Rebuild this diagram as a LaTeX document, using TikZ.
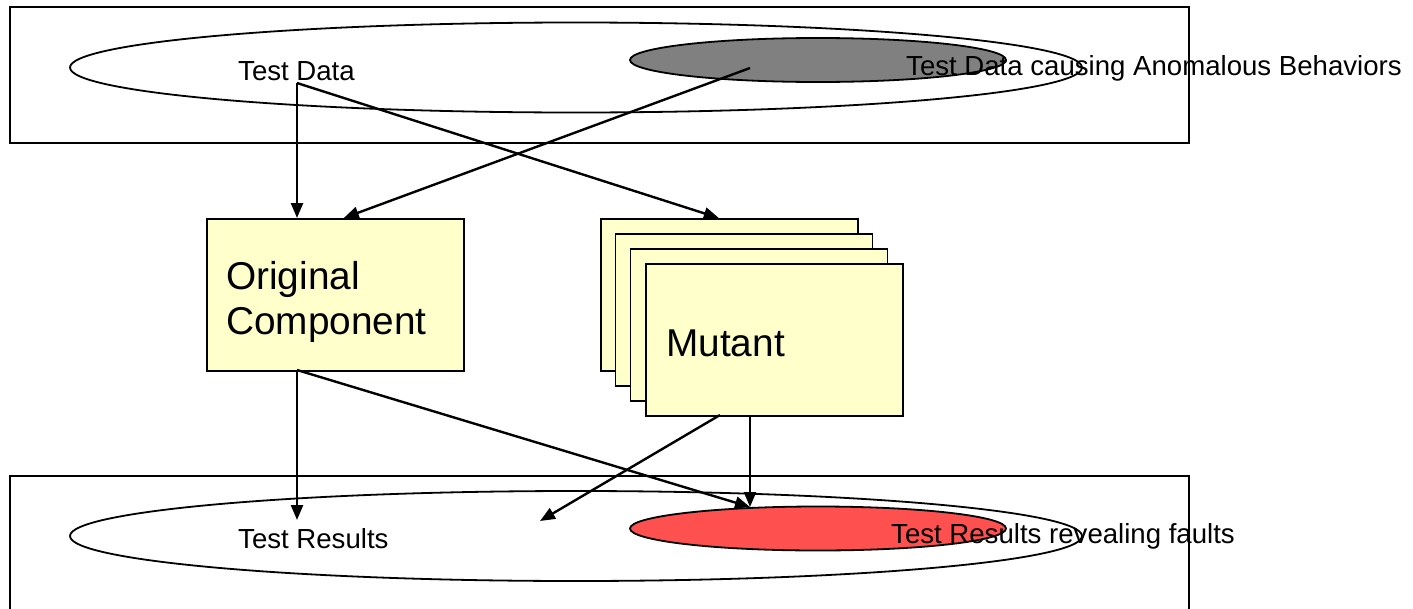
\documentclass[tikz,border=0pt]{standalone}
\usepackage{fontspec}
\setmainfont{Liberation Sans}
\usetikzlibrary{shapes.geometric,arrows.meta}
\definecolor{boxyellow}{HTML}{FFFFCC}
\definecolor{faultred}{HTML}{FF5050}
\definecolor{anomgray}{HTML}{808080}
\begin{document}
\begin{tikzpicture}[x=1pt,y=-1pt,
  frame/.style={draw,line width=1.5pt},
  bigell/.style={ellipse,draw,line width=1.8pt,inner sep=0pt,minimum width=1012pt,minimum height=90pt},
  subell/.style={ellipse,draw,line width=1.8pt,inner sep=0pt,minimum width=376pt,minimum height=44pt},
  compbox/.style={draw,line width=1.6pt,fill=boxyellow,anchor=north west,inner sep=0pt,minimum width=257pt,minimum height=152pt},
  smalltxt/.style={anchor=base west,inner sep=0pt,font=\fontsize{27.6}{32}\selectfont},
  bigtxt/.style={anchor=base west,inner sep=0pt,font=\fontsize{38.8}{45}\selectfont,align=left},
  arr/.style={line width=2.4pt,-{Triangle[length=15pt,width=12pt]}}]
\useasboundingbox (0,0) rectangle (1413,608);
\clip (0,0) rectangle (1413,608);

% input and output areas
\draw[frame] (10,7) rectangle (1189,143);
\draw[frame] (10,476) rectangle (1189,640);

% test data sets
\node[bigell] (data) at (576,67.5) {};
\node[subell,fill=anomgray] (anom) at (818,60) {};
\node[bigell] (results) at (576,536) {};
\node[subell,fill=faultred] (faults) at (818,528.5) {};

% components under test
\node[compbox] (orig) at (206,218) {};
\node[compbox] (m1) at (600,218) {};
\node[compbox] (m2) at (614.5,233) {};
\node[compbox] (m3) at (629.5,248) {};
\node[compbox] (m4) at (645,263) {};

% labels
\node[smalltxt] (tdlab) at (238,80) {Test Data};
\node[smalltxt] (anlab) at (906,75) {Test Data causing Anomalous Behaviors};
\node[smalltxt] (trlab) at (238,548) {Test Results};
\node[smalltxt] (rflab) at (891,543) {Test Results revealing faults};
\node[bigtxt] (origlab1) at (226,289) {Original};
\node[bigtxt] (origlab2) at (226,334) {Component};
\node[bigtxt] (mutlab) at (666,356) {Mutant};

% connector end points
\coordinate (tdsrc) at (297,83);
\coordinate (ansrc) at (750,68);
\coordinate (origout) at (297,370);
\coordinate (mutout) at (750,415);
\coordinate (mutdiag) at (720,415);
\coordinate (trtgt) at (297,520);
\coordinate (faulttgt) at (750,507);
\coordinate (trmid) at (540,521);

% connectors
\draw[arr] (tdsrc) -- (tdsrc |- orig.north);
\draw[arr] (tdsrc) -- ([xshift=-10.5pt]m1.north);
\draw[arr] (ansrc) -- ([xshift=8.5pt]orig.north);
\draw[arr] (origout) -- (trtgt);
\draw[arr] (origout) -- (faulttgt);
\draw[arr] (mutout) -- (faulttgt);
\draw[arr] (mutdiag) -- (trmid);
\end{tikzpicture}
\end{document}
